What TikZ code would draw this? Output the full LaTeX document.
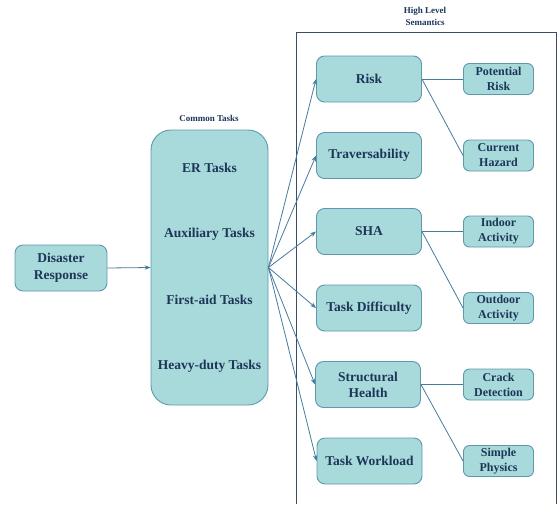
\documentclass[tikz,border=0pt]{standalone}
\usepackage{fontspec}
\setmainfont{Liberation Serif}
\usetikzlibrary{arrows.meta}
\definecolor{boxfill}{HTML}{A8DADC}
\definecolor{boxline}{HTML}{5E98AC}
\definecolor{txt}{HTML}{1D3557}
\definecolor{arr}{HTML}{457B9D}
\definecolor{framec}{HTML}{3C4C68}
\begin{document}
\begin{tikzpicture}[x=1pt,y=-1pt,
  basebox/.style={draw=boxline, fill=boxfill, line width=0.9pt, inner sep=0pt, align=center, text=txt},
  bigbox/.style={basebox, rounded corners=8pt, minimum width=105pt, minimum height=46pt, font=\fontsize{13.5}{16}\selectfont\bfseries},
  smallbox/.style={basebox, rounded corners=6pt, minimum width=70pt, minimum height=31pt, font=\fontsize{12}{15}\selectfont\bfseries},
  tasktext/.style={text=txt, font=\fontsize{13.5}{16}\selectfont\bfseries, inner sep=0pt},
  caption/.style={text=txt, font=\fontsize{9}{12}\selectfont\bfseries, align=center, inner sep=0pt},
  fanarrow/.style={draw=arr, line width=0.8pt, -{Stealth[length=6pt,width=4.5pt]}},
  plainline/.style={draw=arr, line width=0.8pt}
]
\useasboundingbox (0,0) rectangle (557,504);
% frame
\coordinate (f1) at (296,504);
\coordinate (f2) at (296,32);
\coordinate (f3) at (556,32);
\coordinate (f4) at (556,504);
\draw[framec, line width=0.9pt] (f1) -- (f2) -- (f3) -- (f4);
\node[caption] (hls) at (425,16) {High Level\\Semantics};
\node[caption] (ctl) at (209,118) {Common Tasks};

% left
\node[basebox, rounded corners=8pt, minimum width=92pt, minimum height=46pt, font=\fontsize{13.5}{17}\selectfont\bfseries] (dr) at (61,268) {Disaster\\Response};
\node[basebox, rounded corners=20pt, minimum width=117pt, minimum height=275pt] (ct) at (209.5,267.5) {};
\node[tasktext] (t1) at (209.5,168) {ER Tasks};
\node[tasktext] (t2) at (209.5,234) {Auxiliary Tasks};
\node[tasktext] (t3) at (209.5,300) {First-aid Tasks};
\node[tasktext] (t4) at (209.5,366) {Heavy-duty Tasks};

% semantic boxes
\node[bigbox] (risk) at (369,79) {Risk};
\node[bigbox] (trav) at (369,155.5) {Traversability};
\node[bigbox] (sha) at (369,231.5) {SHA};
\node[bigbox] (diff) at (369,308) {Task Difficulty};
\node[bigbox] (sh) at (368,384.5) {Structural\\Health};
\node[bigbox] (wl) at (369.5,461) {Task Workload};

% small boxes
\node[smallbox] (pr) at (498.5,79) {Potential\\Risk};
\node[smallbox] (ch) at (498.5,155.5) {Current\\Hazard};
\node[smallbox] (ia) at (498.5,231.5) {Indoor\\Activity};
\node[smallbox] (oa) at (498.5,308) {Outdoor\\Activity};
\node[smallbox] (cd) at (498.5,384.5) {Crack\\Detection};
\node[smallbox] (sp) at (498.5,461) {Simple\\Physics};

% connectors
\draw[fanarrow] (dr.east) -- (ct.west);
\foreach \t in {risk,trav,sha,diff,sh,wl}
  \draw[fanarrow] (ct.east) -- (\t.west);
\draw[plainline] (risk.east) -- (pr.west);
\draw[plainline] (risk.east) -- (ch.west);
\draw[plainline] (sha.east) -- (ia.west);
\draw[plainline] (sha.east) -- (oa.west);
\draw[plainline] (sh.east) -- (cd.west);
\draw[plainline] (sh.east) -- (sp.west);
\end{tikzpicture}
\end{document}
